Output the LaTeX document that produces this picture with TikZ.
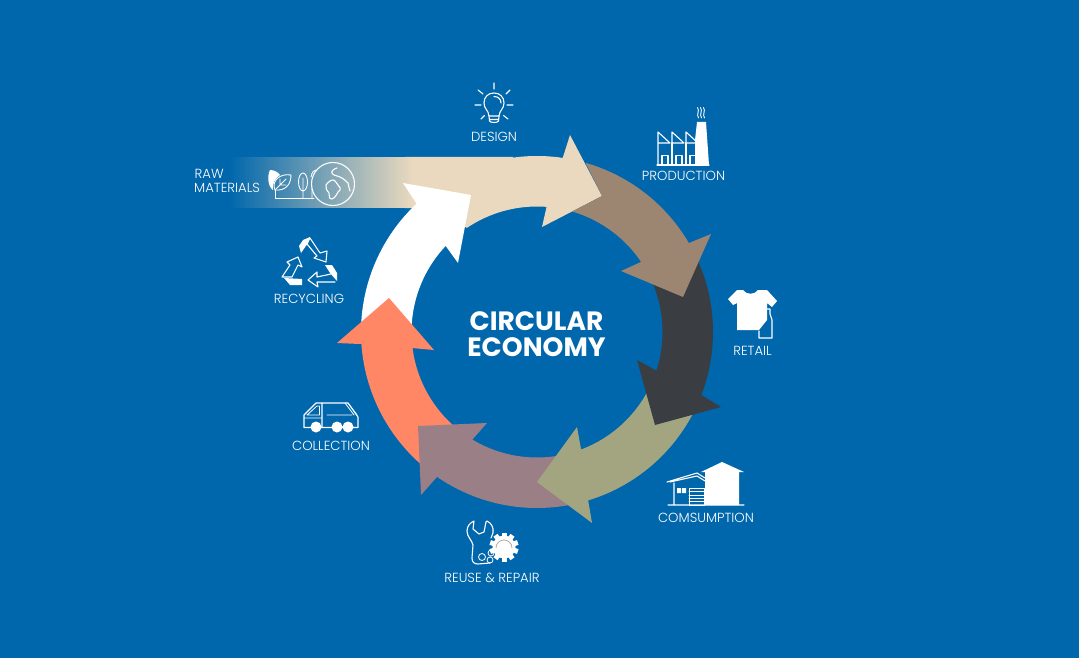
\documentclass[tikz,border=0pt]{standalone}
\usepackage{fontspec}
\setmainfont{Poppins}
\newfontfamily\lightf{Poppins Light}
\definecolor{bgblue}{HTML}{0067AC}
\definecolor{beigec}{HTML}{EAD9BE}
\definecolor{brownc}{HTML}{9C8672}
\definecolor{darkc}{HTML}{3A3E42}
\definecolor{olivec}{HTML}{A3A581}
\definecolor{mauvec}{HTML}{9A8086}
\definecolor{salmonc}{HTML}{FF8766}
\tikzset{
  arcO/.style 2 args={insert path={-- plot[domain=#1:#2,samples=40] ({537+176*cos(\x)},{332+176*sin(\x)})}},
  arcI/.style 2 args={insert path={-- plot[domain=#1:#2,samples=40] ({537+125.5*cos(\x)},{332+125.5*sin(\x)})}},
  lab/.style={text=white,font=\lightf\fontsize{13.2}{15}\selectfont,inner sep=0pt,align=center},
  lableft/.style={lab,align=left,anchor=west},
  title/.style={text=white,font=\bfseries\fontsize{26.5}{26.5}\selectfont,inner sep=0pt},
  ico/.style={draw=white,line width=1.1pt,line join=round,line cap=round},
}
\begin{document}
\begin{tikzpicture}[x=1pt,y=-1pt]
\useasboundingbox (0,0) rectangle (1079,658);
\fill[bgblue] (0,0) rectangle (1079,658);
% raw-material band and beige arrow
\fill[beigec] (405,157) -- (513,157) [arcO={-98}{-81.6}] -- (570,135) -- (602,196) -- (542,227) -- (547,205)
  [arcI={-85.5}{-124}] -- (440,208) -- (405,208) -- cycle;
\foreach \i in {0,...,61} {
  \pgfmathsetmacro\p{\i/61*100}
  \fill[beigec!\p!bgblue] ({228+\i*3},157) rectangle ({231.4+\i*3},208);
}
% white arrow
\fill[white] (403,183) -- (471,195) -- (458,263) -- (445,245) [arcI={223.4}{180}] [arcO={180}{226.8}] -- cycle;
% salmon arrow
\fill[salmonc] (389,298) -- (337,343) -- (360,344) [arcO={176.1}{128}] [arcI={128}{172.7}] -- (412,348) -- (434,350) -- cycle;
% mauve arrow
\fill[mauvec] (418,426) -- (487,423) -- (472,440) [arcI={121}{78}] [arcO={78}{124.6}] -- (421,495) -- cycle;
% olive arrow
\fill[olivec] (537,482) -- (577,427) -- (581,449) [arcI={69.4}{25}] [arcO={25}{73.1}] -- (592,523) -- cycle;
% dark arrow
\fill[darkc] (655,425) -- (637,360) -- (657,371) [arcI={18}{-28}] [arcO={-28}{21}] -- (721,407) -- cycle;
% brown arrow
\fill[brownc] (683,297) -- (711,234) -- (689,243) [arcO={-30.3}{-74}] -- (602,196) -- (573,211) [arcI={-73.4}{-34}] -- (641,262) -- (621,271) -- cycle;
% texts
\node[title] (t1) at (536.5,321) {CIRCULAR};
\node[title] (t2) at (536.5,347) {ECONOMY};
\node[lab] (design) at (494,137) {DESIGN};
\node[lab] (production) at (683.5,176) {PRODUCTION};
\node[lab] (retail) at (752.5,350.5) {RETAIL};
\node[lab] (consumption) at (706,518) {COMSUMPTION};
\node[lab] (reuse) at (492,578) {REUSE \& REPAIR};
\node[lab] (collection) at (331,445.5) {COLLECTION};
\node[lab] (recycling) at (309,299) {RECYCLING};
\node[lableft] (rawa) at (194.5,174) {RAW};
\node[lableft] (rawb) at (194,188) {MATERIALS};
% bulb
\draw[ico] (489,116) .. controls (488.5,110) and (484,109) .. (484,103) .. controls (484,97) and (488,93) .. (494,93)
  .. controls (500,93) and (504,97) .. (504,103) .. controls (504,109) and (499.5,110) .. (499,116) -- cycle;
\draw[ico] (489,116) -- (489.5,121) .. controls (490,123) and (498,123) .. (498.5,121) -- (499,116) (489.5,119.5) -- (498.5,119.5);
\draw[ico] (494,96.5) .. controls (498,96.5) and (501,99) .. (501,103);
\draw[ico] (494,83) -- (494,89) (475,105) -- (481,105) (507,105) -- (513,105) (478,90) -- (483,94) (510,90) -- (506,94) (481,119) -- (484.5,115.5) (508,119) -- (503.5,115.5);
% factory
\fill[white] (697,122) -- (706,122) -- (709,165) -- (695,165) -- (695,140) -- cycle;
\draw[ico] (657,165) -- (709,165);
\foreach \d in {0,14,28} {
  \draw[ico] (658+\d,165) -- (658+\d,132) -- (670+\d,143) -- (658+\d,143);
  \draw[ico] (662+\d,165) -- (662+\d,155.5) -- (668+\d,155.5) -- (668+\d,165);
}
\draw[ico] (672,143) -- (672,165) (686,143) -- (686,165);
\draw[ico,line width=0.9pt] (697.5,107.5) .. controls (700,111) and (696,114) .. (698.5,118) (700.5,107.5) .. controls (703,111) and (699,114) .. (701.5,118) (703.5,107.5) .. controls (706,111) and (702,114) .. (704.5,118);
% t-shirt
\fill[white] (728,299) -- (737,290) -- (743,290) .. controls (746,295) and (755,295) .. (758,290) -- (767,290) -- (777,301) -- (772,307) -- (767,303)
  -- (767,320) -- (759,330) -- (737,330) -- (737,303) -- (733,305) -- cycle;
\draw[ico] (759,331) -- (759,338) -- (772,338) -- (772,320) -- (770,314) -- (770,309) -- (767,309);
% house
\fill[white] (701,472) -- (722,462) -- (744,472) -- (739,472) -- (739,505) -- (705,505) -- (705,472) -- cycle;
\draw[ico] (668,505) -- (744,505) (667,482) -- (697,473) -- (705,478) (674,483) -- (674,505) (670,482) -- (697,476) -- (705,481);
\fill[white] (677,488) rectangle (681,493) (682,488) rectangle (686,493);
\draw[ico,line width=0.8pt] (689,488) rectangle (704,505) (689,491.5) -- (704,491.5) (689,495) -- (704,495) (689,498) -- (704,498) (689,501.5) -- (704,501.5);
% recycling
\fill[white] (299,246) -- (303,240) -- (310,237) -- (308,243) -- (301,253) -- cycle;
\fill[white] (325,265) -- (332,265) -- (337,273) -- (337,281) -- (330,273) -- cycle;
\fill[white] (284,278) -- (302,279) -- (302,285) -- (290,285) -- cycle;
\draw[ico] (310,238) -- (320,253) -- (327,251) -- (326,262) -- (314,258) -- (317,256) -- (307,244) -- cycle;
\draw[ico] (335,282) -- (317,282) -- (318,287) -- (308,280) -- (317,272) -- (317,277) -- (331,274);
\draw[ico] (282,277) -- (290,265) -- (287,262) -- (298,257) -- (302,267) -- (298,265) -- (292,277) -- cycle;
% raw material icon
\fill[white] (270,170) .. controls (274,170) and (278,172) .. (280,175) .. controls (275,178) and (272,184) .. (273,190) .. controls (268,187) and (267,176) .. (270,170) -- cycle;
\draw[ico,line width=0.9pt] (291,175) .. controls (280,173) and (271,181) .. (275,190) .. controls (285,191) and (291,185) .. (291,175) -- cycle;
\draw[ico,line width=0.8pt] (275,190) -- (286,179) (280,185) -- (280,179) (280,185) -- (286,185);
\draw[ico,line width=0.9pt] (275,190) -- (275,198) -- (314,198);
\draw[ico,line width=0.9pt] (303,182) ellipse (4.5 and 9) (303,178) -- (303,198);
\draw[ico,line width=0.9pt] (312,198) -- (312,188) (311,177) .. controls (312,172) and (314,170) .. (316,170);
\draw[ico] (333,184) circle (21.5);
\draw[ico] (326,185) .. controls (328,182) and (331,180) .. (333,180) .. controls (336,180) and (336,184) .. (338,185) .. controls (340,187) and (341,189) .. (340,190) .. controls (337,192) and (336,198) .. (332,199) .. controls (328,199) and (330,195) .. (329,193) .. controls (327,191) and (325,188) .. (326,185) -- cycle;
\draw[ico] (337,168) .. controls (334,169) and (331,171) .. (332,173) .. controls (333,176) and (337,175) .. (340,177) .. controls (344,179) and (346,181) .. (348,183) .. controls (349,186) and (349,189) .. (350,191);
% wrench and gear
\draw[ico] (474,521) .. controls (470,523) and (467,526) .. (467,531) .. controls (467,537) and (472,540) .. (473,545) -- (472,558) .. controls (472,562) and (474,564) .. (478,564) -- (490,563)
  (487,521) .. controls (491,523) and (494,527) .. (493,533) -- (491,538)
  (474,521) -- (473,529) -- (479,534) -- (484,532) -- (486,522) -- (487,521);
\draw[ico,line width=0.8pt] (482,557) circle (3.5) (491,553) circle (3) (490,560) circle (3);
\fill[white] (504,547) circle (11.5);
\foreach \a in {0,36,...,324} {\fill[white,rotate around={\a:(504,547)}] (501.5,532.5) rectangle (506.5,540);}
\draw[line width=0.8pt,draw=brownc!70!white] (496,548) arc[start angle=180,end angle=360,radius=8];
% truck
\draw[ico] (304,427.5) -- (304,415) -- (316,403) -- (322,403) -- (322,427) (304,427.5) -- (358,427.5) -- (358,417) -- (348,403) -- (322,403);
\draw[ico,line width=0.8pt] (304,418) -- (322,418) (307,415) -- (317,406) -- (319.5,406) -- (319.5,415) -- cycle (327,415) -- (352,415) (345,403) -- (354,415) (348,403) -- (357,415);
\fill[white] (316,427) circle (5.5) (337,427) circle (5.5) (348,427) circle (5.5);
\end{tikzpicture}
\end{document}
